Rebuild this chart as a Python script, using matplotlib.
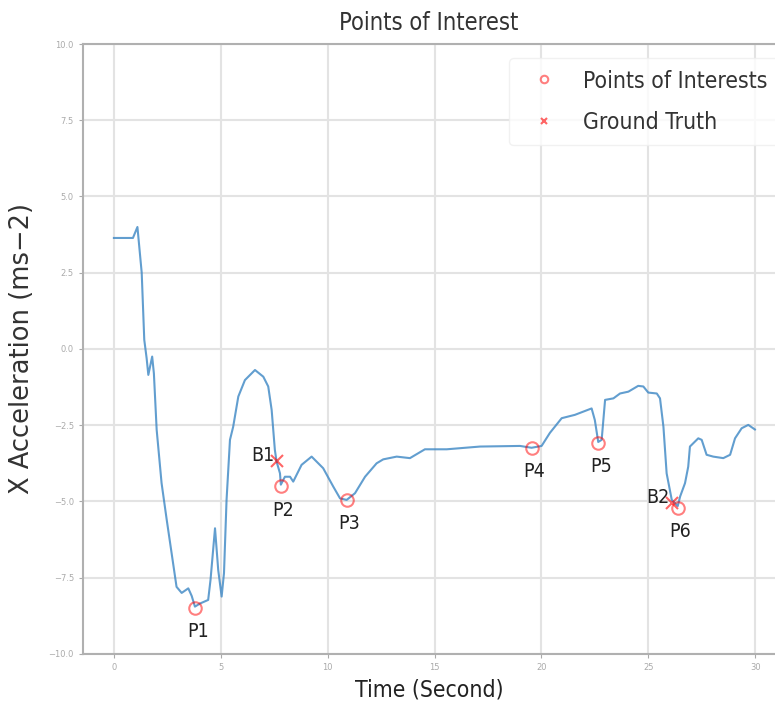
import numpy as np
import matplotlib
matplotlib.use("Agg")
import matplotlib.pyplot as plt
from matplotlib import font_manager

# ---------------------------------------------------------
#  DATA
# ---------------------------------------------------------
time = [0.0, 0.89, 1.1, 1.3, 1.42, 1.53, 1.61, 1.79, 1.87, 2.0, 2.23, 2.47,
        2.7, 2.93, 3.17, 3.48, 3.64, 3.79, 4.02, 4.41, 4.52, 4.73, 4.88,
        5.04, 5.15, 5.27, 5.43, 5.58, 5.82, 6.13, 6.6, 6.99, 7.22, 7.38,
        7.53, 7.61, 7.77, 7.81, 8.0, 8.24, 8.39, 8.78, 9.25, 9.79, 10.26,
        10.58, 10.89, 11.28, 11.75, 12.29, 12.6, 13.23, 13.85, 14.55,
        15.57, 17.13, 19.0, 19.54, 20.01, 20.4, 20.95, 21.57, 22.35, 22.5,
        22.66, 22.82, 22.98, 23.37, 23.68, 24.07, 24.53, 24.77, 25.0, 25.4,
        25.55, 25.71, 25.86, 26.1, 26.38, 26.49, 26.72, 26.87, 26.95, 27.34,
        27.5, 27.73, 28.04, 28.51, 28.83, 29.06, 29.37, 29.68, 29.99]
accel = [3.64, 3.64, 4.0, 2.5, 0.3, -0.3, -0.85, -0.25, -0.8, -2.65, -4.4,
         -5.6, -6.7, -7.8, -8.0, -7.85, -8.1, -8.45, -8.35, -8.23, -7.57,
         -5.88, -7.25, -8.12, -7.35, -4.95, -2.98, -2.55, -1.56, -1.02,
         -0.69, -0.91, -1.23, -2.0, -3.31, -3.69, -4.08, -4.45, -4.19, -4.19,
         -4.35, -3.8, -3.53, -3.91, -4.51, -4.9, -4.95, -4.73, -4.19, -3.75,
         -3.62, -3.53, -3.58, -3.29, -3.29, -3.2, -3.18, -3.24, -3.18, -2.75,
         -2.27, -2.16, -1.95, -2.33, -3.05, -2.98, -1.67, -1.62, -1.46, -1.4,
         -1.21, -1.23, -1.43, -1.46, -1.62, -2.55, -4.08, -4.95, -5.15,
         -4.84, -4.4, -3.86, -3.2, -2.93, -2.98, -3.47, -3.53, -3.58, -3.47,
         -2.93, -2.6, -2.49, -2.64]

poi_names = ["P1", "P2", "P3", "P4", "P5", "P6"]
poi_time = [3.79, 7.81, 10.89, 19.54, 22.66, 26.38]
poi_accel = [-8.5, -4.51, -4.95, -3.26, -3.09, -5.22]

gt_names = ["B1", "B2"]
gt_time = [7.61, 26.1]
gt_accel = [-3.69, -5.06]

yticks = [10.0, 7.5, 5.0, 2.5, 0.0, -2.5, -5.0, -7.5, -10.0]
xticks = [0, 5, 10, 15, 20, 25, 30]

# the reference text looks squeezed sideways, so use a condensed face if there is one
names = {f.name for f in font_manager.fontManager.ttflist}
if "DejaVu Sans Condensed" in names:
    narrow = dict(family="DejaVu Sans Condensed")
elif "Liberation Sans Narrow" in names:
    narrow = dict(family="Liberation Sans Narrow")
else:
    narrow = dict(family="DejaVu Sans", stretch="condensed")

# ---------------------------------------------------------
#  PLOT
# ---------------------------------------------------------
fig = plt.figure(figsize=(7.75, 7.1), dpi=100)
ax = fig.add_axes([0.107, 0.079, 0.893, 0.859])

ax.plot(time, accel, color="#3b86c4", alpha=0.8, linewidth=1.5)
ax.plot(poi_time, poi_accel, linestyle="none", marker="o", markersize=9,
        markerfacecolor="none", markeredgecolor="red", markeredgewidth=1.5,
        alpha=0.5, label="Points of Interests")
ax.plot(gt_time, gt_accel, linestyle="none", marker="x", markersize=8,
        color="red", markeredgewidth=1.5, alpha=0.6, label="Ground Truth")

for name, t, a in zip(poi_names, poi_time, poi_accel):
    ax.annotate(name, (t, a), xytext=(2, -17), textcoords="offset points",
                ha="center", va="center", fontsize=14, color="#222222", **narrow)
for name, t, a in zip(gt_names, gt_time, gt_accel):
    ax.annotate(name, (t, a), xytext=(-10, 4), textcoords="offset points",
                ha="center", va="center", fontsize=14, color="#222222", **narrow)

ax.set_xlim(-1.45, 30.93)
ax.set_ylim(-10, 10)
ax.set_xticks(xticks)
ax.set_yticks(yticks)
ax.set_yticklabels([f"{v:.1f}".replace("-", "\u2212") for v in yticks])
ax.tick_params(labelsize=6, labelcolor="#aaaaaa", color="#aaaaaa", length=3)
ax.grid(True, color="#e3e3e3", linewidth=1.5)
ax.set_axisbelow(True)
for side in ["left", "top", "bottom"]:
    ax.spines[side].set_color("#b0b0b0")
    ax.spines[side].set_linewidth(1.5)
ax.spines["right"].set_visible(False)

ax.set_title("Points of Interest", fontsize=17, color="#333333", pad=10, **narrow)
ax.set_xlabel("Time (Second)", fontsize=16.5, color="#222222", labelpad=5, **narrow)
ax.set_ylabel("X Acceleration (ms\u22122)", fontsize=18.5, color="#333333",
              labelpad=10)
ax.legend(loc="upper left", bbox_to_anchor=(0.616, 0.977), borderaxespad=0,
          framealpha=0.8, edgecolor="#eeeeee", labelcolor="#333333",
          handletextpad=0.7, labelspacing=0.8, borderpad=0.5,
          markerscale=0.6, prop=dict(size=16.5, **narrow))

fig.savefig("out.png", dpi=100)
